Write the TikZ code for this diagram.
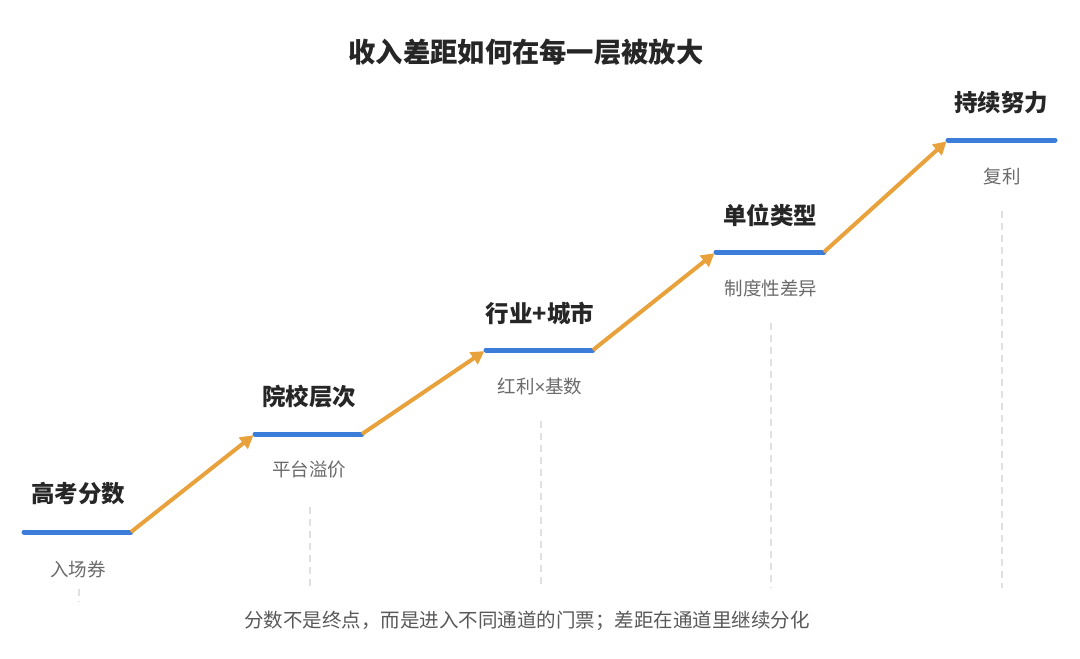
\documentclass[tikz,border=0pt]{standalone}
\usepackage{fontspec}
\setmainfont{Noto Sans CJK SC}
\newfontfamily\latinfont{Liberation Sans}
\usetikzlibrary{arrows.meta}
\definecolor{stepblue}{HTML}{3B7DD8}
\definecolor{riseorange}{HTML}{E9A23B}
\definecolor{subgray}{HTML}{6A6A6A}
\definecolor{guidegray}{HTML}{E0E0E0}
\tikzset{
  stepline/.style={stepblue,line width=5pt,line cap=round},
  riseline/.style={riseorange,line width=4pt,arrows={-Triangle[length=13pt,width=14pt]},shorten >=2pt},
  guideline/.style={guidegray,line width=2pt,dash pattern=on 7pt off 5pt},
  steplabel/.style={font=\fontsize{23.5}{27}\selectfont\bfseries,text=black!85},
  subtext/.style={font=\fontsize{18.5}{21}\selectfont,text=subgray}
}
\begin{document}
\begin{tikzpicture}[x=1pt,y=-1pt]
	\useasboundingbox (0,0) rectangle (1080,659);
	% Title
	\node [font=\fontsize{27.3}{31}\selectfont\bfseries,text=black!85] (title) at (526,52) {收入差距如何在每一层被放大};
	% Step 1
	\coordinate (s1a) at (24,532); \coordinate (s1b) at (131,532);
	\draw [stepline] (s1a) -- (s1b);
	\node [steplabel] (l1) at (78,494) {高考分数};
	\node [subtext] (t1) at (78,569) {入场券};
	\coordinate (g1a) at (79,589); \coordinate (g1b) at (79,602);
	\draw [guideline] (g1a) -- (g1b);
	% Step 2
	\coordinate (s2a) at (255,434); \coordinate (s2b) at (362,434);
	\draw [stepline] (s2a) -- (s2b);
	\node [steplabel] (l2) at (309,397) {院校层次};
	\node [subtext] (t2) at (309,470) {平台溢价};
	\coordinate (g2a) at (310,507); \coordinate (g2b) at (310,588);
	\draw [guideline] (g2a) -- (g2b);
	% Step 3
	\coordinate (s3a) at (486,350); \coordinate (s3b) at (593,350);
	\draw [stepline] (s3a) -- (s3b);
	\node [steplabel] (l3) at (540,313) {行业+城市};
	\node [subtext] (t3) at (540,386) {红利{\latinfont ×}基数};
	\coordinate (g3a) at (541,421); \coordinate (g3b) at (541,588);
	\draw [guideline] (g3a) -- (g3b);
	% Step 4
	\coordinate (s4a) at (716,252); \coordinate (s4b) at (824,252);
	\draw [stepline] (s4a) -- (s4b);
	\node [steplabel] (l4) at (770,215) {单位类型};
	\node [subtext] (t4) at (771,288) {制度性差异};
	\coordinate (g4a) at (771,323); \coordinate (g4b) at (771,588);
	\draw [guideline] (g4a) -- (g4b);
	% Step 5
	\coordinate (s5a) at (948,140); \coordinate (s5b) at (1055,140);
	\draw [stepline] (s5a) -- (s5b);
	\node [steplabel] (l5) at (1001,103) {持续努力};
	\node [subtext] (t5) at (1002,176) {复利};
	\coordinate (g5a) at (1002,211); \coordinate (g5b) at (1002,588);
	\draw [guideline] (g5a) -- (g5b);
	% Rises
	\draw [riseline] (s1b) -- (s2a);
	\draw [riseline] (s2b) -- (s3a);
	\draw [riseline] (s3b) -- (s4a);
	\draw [riseline] (s4b) -- (s5a);
	% Footer
	\node [font=\fontsize{19.5}{23}\selectfont,text=black!65] (foot) at (527,621) {分数不是终点，而是进入不同通道的门票；差距在通道里继续分化};
\end{tikzpicture}
\end{document}
